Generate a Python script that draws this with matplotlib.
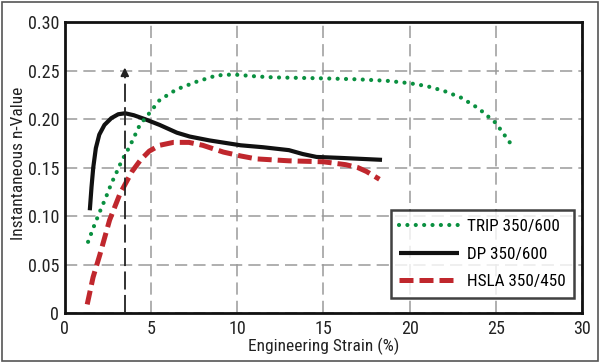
import matplotlib
matplotlib.use("Agg")
import matplotlib.pyplot as plt
from matplotlib import font_manager
from matplotlib.patches import Rectangle

names = {f.name for f in font_manager.fontManager.ttflist}
narrow = None
for cand in ['Liberation Sans Narrow', 'Roboto Condensed', 'Open Sans Condensed',
             'Noto Sans Condensed', 'Arial Narrow']:
    if cand in names:
        narrow = cand
        break
fam = narrow if narrow else 'Liberation Sans'
plt.rcParams['font.family'] = [fam, 'DejaVu Sans']
is_narrow = narrow is not None

# Data
trip_x = [1.35, 1.7, 2.03, 2.4, 2.71, 3.0, 3.3, 3.77, 4.35, 4.9, 5.5, 6.48, 7.64, 8.8, 9.77,
          11.1, 12.1, 15.0, 17.0, 18.67, 20.0, 21.0, 22.0, 23.0, 24.0, 25.0, 25.87]
trip_y = [0.0735, 0.090, 0.1045, 0.120, 0.134, 0.145, 0.157, 0.172, 0.194, 0.206, 0.2196, 0.2306,
          0.2385, 0.245, 0.246, 0.244, 0.243, 0.242, 0.241, 0.2395, 0.237, 0.234, 0.229, 0.222,
          0.211, 0.196, 0.1745]

dp_x = [1.45, 1.55, 1.65, 1.8, 2.0, 2.3, 2.7, 3.1, 3.5, 4.0, 4.64, 5.5, 6.5, 7.25, 8.4, 10.2,
        11.5, 13.0, 13.8, 14.6, 16.0, 18.4]
dp_y = [0.106, 0.130, 0.150, 0.170, 0.184, 0.194, 0.201, 0.205, 0.206, 0.204, 0.200, 0.194,
        0.186, 0.182, 0.178, 0.173, 0.171, 0.168, 0.164, 0.161, 0.160, 0.158]

hsla_x = [1.3, 1.64, 2.03, 2.6, 3.2, 3.9, 4.4, 4.9, 5.5, 6.3, 7.2, 8.0, 9.2, 10.2, 11.1, 13.0,
          15.0, 16.3, 17.0, 17.5, 18.25]
hsla_y = [0.009, 0.037, 0.060, 0.096, 0.123, 0.146, 0.158, 0.167, 0.173, 0.176, 0.176, 0.173,
          0.166, 0.162, 0.159, 0.157, 0.156, 0.153, 0.150, 0.146, 0.138]

arrow_x = 3.48
arrow_top = 0.256

x_ticks = [0, 5, 10, 15, 20, 25, 30]
x_labels = ['0', '5', '10', '15', '20', '25', '30']
y_ticks = [0, 0.05, 0.10, 0.15, 0.20, 0.25, 0.30]
y_labels = ['0', '0.05', '0.10', '0.15', '0.20', '0.25', '0.30']

tick_fs = 13 if is_narrow else 11.5
lab_fs = 12.5 if is_narrow else 10.5
leg_fs = 12.3 if is_narrow else 10.5

fig = plt.figure(figsize=(6.0, 3.62), dpi=100)
ax = fig.add_axes([0.108, 0.135, 0.862, 0.804])

fig.patches.append(Rectangle((0.003, 0.004), 0.993, 0.991, transform=fig.transFigure,
                             fill=False, edgecolor='#555555', linewidth=1.2))

ax.set_xlim(0, 30)
ax.set_ylim(0, 0.30)
ax.set_xticks(x_ticks)
ax.set_xticklabels(x_labels)
ax.set_yticks(y_ticks)
ax.set_yticklabels(y_labels)
ax.tick_params(length=0, labelsize=tick_fs, colors='#222222', pad=4)
ax.tick_params(axis='x', pad=5)
ax.grid(True, color='#9a9a9a', linestyle=(0, (8, 4)), linewidth=1.1)
ax.set_axisbelow(True)
for s in ax.spines.values():
    s.set_linewidth(2.0)
    s.set_color('#111111')

ax.plot(trip_x, trip_y, color='#0a9040', linewidth=3.0, linestyle=(0, (0.01, 2.0)),
        dash_capstyle='round', label='TRIP 350/600', zorder=4)
ax.plot(dp_x, dp_y, color='#111111', linewidth=3.0, label='DP 350/600', zorder=3,
        solid_capstyle='butt')
ax.plot(hsla_x, hsla_y, color='#c0272d', linewidth=3.6, linestyle=(0, (2.8, 1.2)),
        label='HSLA 350/450', zorder=3)

ax.plot([arrow_x, arrow_x], [0, arrow_top - 0.008], color='#222222', linewidth=1.3,
        linestyle=(0, (10, 3)), zorder=5)
ax.annotate('', xy=(arrow_x, arrow_top), xytext=(arrow_x, arrow_top - 0.012),
            arrowprops=dict(arrowstyle='-|>', color='#222222', lw=1.3, mutation_scale=12),
            zorder=5)

ax.set_xlabel('Engineering Strain (%)', fontsize=lab_fs, color='#222222')
ax.set_ylabel('Instantaneous n-Value', fontsize=lab_fs, color='#222222')
ax.yaxis.set_label_coords(19 / 600, 1 - 163.5 / 362, transform=fig.transFigure)
ax.xaxis.set_label_coords(323.5 / 600, 1 - 346 / 362, transform=fig.transFigure)
ax.xaxis.label.set_verticalalignment('center')
ax.yaxis.label.set_verticalalignment('center')

leg = ax.legend(loc='lower right', bbox_to_anchor=(0.985, 0.052), fontsize=leg_fs,
                frameon=True, fancybox=False, edgecolor='#111111',
                handlelength=3.5, borderpad=0.5, labelspacing=0.75,
                handletextpad=0.45, borderaxespad=0)
leg.get_frame().set_linewidth(1.8)

fig.savefig('out.png', dpi=100, facecolor='white')
